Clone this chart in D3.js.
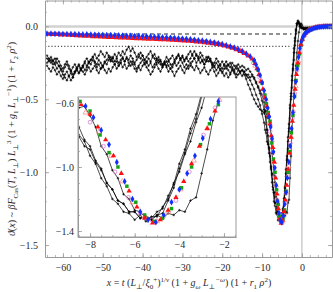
<!DOCTYPE html>
<html>
<head>
<meta charset="utf-8">
<script src="https://cdn.jsdelivr.net/npm/d3@7"></script>
<style>
  body { margin: 0; background: #fff; }
  svg  { display: block; font-family: 'Liberation Serif', 'DejaVu Serif', serif; }
</style>
</head>
<body>
<svg id="chart" width="333" height="292"></svg>
<script>
// MARK: Data.

const xTicks      = [-60, -50, -40, -30, -20, -10, 0]
const yTicks      = [0, -0.5, -1.0, -1.5]
const insetXTicks = [-8, -6, -4, -2]
const insetYTicks = [-0.6, -1.0, -1.4]

// reference levels: y = 0, dashed, dotted; vertical line at x = 0
const refDashed = -0.052
const refDotted = -0.137
const refEnd    = -2.6

// scaling function, blue filled diamonds
const blue = [
  [-64, -0.050], [-63, -0.050], [-62, -0.051], [-61, -0.051], [-60, -0.052], [-59, -0.052],
  [-58, -0.053], [-57, -0.053], [-56, -0.054], [-55, -0.055], [-54, -0.055], [-53, -0.056],
  [-52, -0.057], [-51, -0.058], [-50, -0.058], [-49, -0.059], [-48, -0.060], [-47, -0.061],
  [-46, -0.062], [-45, -0.063], [-44, -0.064], [-43, -0.065], [-42, -0.066], [-41, -0.067],
  [-40, -0.068], [-39, -0.069], [-38, -0.070], [-37, -0.072], [-36, -0.073], [-35, -0.075],
  [-34, -0.076], [-33, -0.078], [-32, -0.080], [-31, -0.082], [-30, -0.084], [-29, -0.086],
  [-28, -0.089], [-27, -0.092], [-26, -0.095], [-25, -0.098], [-24, -0.102], [-23, -0.106],
  [-22, -0.111], [-21, -0.116], [-20, -0.122], [-19, -0.129], [-18, -0.137], [-17, -0.146],
  [-16, -0.157], [-15, -0.170], [-14, -0.186], [-13, -0.206], [-12, -0.232],
  [-11.5, -0.262], [-11, -0.295], [-10.5, -0.335], [-10, -0.385], [-9.5, -0.44], [-9, -0.50],
  [-8.6, -0.56], [-8.2, -0.62], [-7.85, -0.69], [-7.5, -0.77], [-7.15, -0.86], [-6.8, -0.97],
  [-6.45, -1.09], [-6.1, -1.20], [-5.75, -1.28], [-5.4, -1.33], [-5.05, -1.345], [-4.7, -1.30],
  [-4.35, -1.22], [-4.0, -1.14], [-3.65, -1.04], [-3.3, -0.93], [-2.95, -0.82], [-2.6, -0.70],
  [-2.25, -0.59], [-1.9, -0.48], [-1.55, -0.38], [-1.2, -0.29], [-0.85, -0.21], [-0.5, -0.15],
  [-0.15, -0.105], [0.2, -0.075], [0.6, -0.055], [1.0, -0.042], [1.5, -0.031], [2, -0.023],
  [2.5, -0.017], [3, -0.012], [3.5, -0.008], [4, -0.005], [4.5, -0.003], [5, -0.002],
  [5.5, -0.001], [6, 0], [6.5, 0], [7, 0], [7.5, 0],
]

// red filled triangles
const red = [
  [-63.5, -0.053], [-62.5, -0.055], [-61.5, -0.056], [-60.5, -0.058], [-59.5, -0.059],
  [-58.5, -0.061], [-57.5, -0.062], [-56.5, -0.064], [-55.5, -0.065], [-54.5, -0.067],
  [-53.5, -0.068], [-52.5, -0.070], [-51.5, -0.071], [-50.5, -0.072], [-49.5, -0.074],
  [-48.5, -0.075], [-47.5, -0.076], [-46.5, -0.078], [-45.5, -0.079], [-44.5, -0.080],
  [-43.5, -0.081], [-42.5, -0.083], [-41.5, -0.084], [-40.5, -0.085], [-39.5, -0.086],
  [-38.5, -0.087], [-37.5, -0.088], [-36.5, -0.089], [-35.5, -0.091], [-34.5, -0.092],
  [-33.5, -0.093], [-32.5, -0.095], [-31.5, -0.096], [-30.5, -0.098], [-29.5, -0.100],
  [-28.5, -0.102], [-27.5, -0.104], [-26.5, -0.106], [-25.5, -0.109], [-24.5, -0.112],
  [-23.5, -0.115], [-22.5, -0.119], [-21.5, -0.123], [-20.5, -0.128], [-19.5, -0.134],
  [-18.5, -0.141], [-17.5, -0.149], [-16.5, -0.159], [-15.5, -0.171], [-14.5, -0.185],
  [-13.5, -0.202], [-12.5, -0.223],
  [-11.8, -0.255], [-11.3, -0.29], [-10.8, -0.33], [-10.3, -0.38], [-9.8, -0.43], [-9.3, -0.49],
  [-8.8, -0.55], [-8.4, -0.61], [-8.0, -0.67], [-7.65, -0.75], [-7.3, -0.83], [-6.95, -0.93],
  [-6.6, -1.04], [-6.25, -1.15], [-5.9, -1.25], [-5.55, -1.32], [-5.2, -1.35], [-4.85, -1.33],
  [-4.5, -1.27], [-4.15, -1.19], [-3.8, -1.09], [-3.45, -0.98], [-3.1, -0.87], [-2.75, -0.76],
  [-2.4, -0.65], [-2.05, -0.54], [-1.7, -0.43], [-1.35, -0.33], [-1.0, -0.25], [-0.65, -0.18],
  [-0.3, -0.125], [0.05, -0.09], [0.4, -0.065], [0.8, -0.048], [1.25, -0.036], [1.75, -0.027],
  [2.25, -0.020], [2.75, -0.014], [3.25, -0.010], [3.75, -0.007], [4.25, -0.004], [4.75, -0.002],
  [5.25, -0.001], [5.75, 0], [6.25, 0], [6.75, 0], [7.25, 0],
]

// green filled squares
const green = [
  [-63, -0.052], [-60, -0.054], [-57, -0.056], [-54, -0.058], [-51, -0.061], [-48, -0.063],
  [-45, -0.066], [-42, -0.069], [-39, -0.072], [-36, -0.076], [-33, -0.080], [-30, -0.086],
  [-27, -0.094], [-24, -0.104], [-21, -0.118], [-18, -0.140], [-15, -0.172],
  [-12, -0.235], [-11, -0.30], [-10, -0.39], [-9.3, -0.47], [-8.9, -0.53], [-8.45, -0.59],
  [-8.0, -0.65], [-7.55, -0.80], [-7.15, -0.91], [-6.75, -1.00], [-6.35, -1.12], [-5.95, -1.22],
  [-5.55, -1.30], [-5.15, -1.34], [-4.75, -1.32], [-4.35, -1.26], [-3.9, -1.13], [-3.45, -1.00],
  [-3.05, -0.86], [-2.65, -0.73], [-2.25, -0.61], [-1.85, -0.48], [-1.45, -0.37], [-1.05, -0.27],
  [-0.65, -0.19], [-0.25, -0.13], [0.15, -0.09], [0.6, -0.06], [1.1, -0.043], [1.6, -0.032],
  [2.2, -0.022], [2.8, -0.015], [3.4, -0.010], [4, -0.006], [4.6, -0.003], [5.2, -0.002],
  [5.8, -0.001], [6.4, 0], [7.0, 0],
]

// open circles (pink)
const pinkCircles = [
  [-62, -0.050], [-52, -0.057], [-42, -0.066], [-32, -0.080], [-22, -0.110], [-17, -0.145],
  [-12.2, -0.25], [-10.6, -0.35], [-9.5, -0.47], [-8.7, -0.60], [-8.0, -0.72], [-7.4, -0.87],
  [-6.88, -1.03], [-6.28, -1.19], [-5.75, -1.29], [-5.23, -1.33], [-4.7, -1.31], [-4.15, -1.21],
  [-3.55, -1.03], [-2.92, -0.80], [-2.4, -0.63], [-1.8, -0.46], [-1.2, -0.30], [-0.6, -0.18],
  [0.1, -0.09], [1.0, -0.045], [2.5, -0.017], [4.5, -0.004], [6.5, 0],
]

// open triangles (salmon)
const salmonTriangles = [
  [-58, -0.055], [-48, -0.062], [-38, -0.072], [-28, -0.090], [-20, -0.124], [-15.5, -0.165],
  [-11.7, -0.27], [-10.3, -0.37], [-9.1, -0.50], [-8.2, -0.66], [-7.6, -0.78], [-7.05, -0.93],
  [-6.55, -1.09], [-6.1, -1.22], [-5.55, -1.31], [-5.0, -1.34], [-4.5, -1.28], [-3.95, -1.14],
  [-3.35, -0.96], [-2.75, -0.76], [-2.2, -0.58], [-1.6, -0.41], [-0.9, -0.24], [-0.2, -0.12],
  [0.6, -0.058], [1.8, -0.025], [3.5, -0.008], [5.5, -0.001], [7.3, 0],
]

// Monte Carlo runs (black crosses joined by lines), all sampled at blackX
const blackX = [
  -64, -63.5, -63, -62.5, -62, -61.5, -61, -60.5, -60, -59.5,
  -59, -58.5, -58, -57.5, -57, -56.5, -56, -55.5, -55, -54.5,
  -54, -53.5, -53, -52.5, -52, -51.5, -51, -50.5, -50, -49.5,
  -49, -48.5, -48, -47.5, -47, -46.5, -46, -45.5, -45, -44.5,
  -44, -43.5, -43, -42.5, -42, -41.5, -41, -40.5, -40, -39.5,
  -39, -38.5, -38, -37.5, -37, -36.5, -36, -35.5, -35, -34.5,
  -34, -33.5, -33, -32.5, -32, -31.5, -31, -30.5, -30, -29.5,
  -29, -28.5, -28, -27.5, -27, -26.5, -26, -25.5, -25, -24.5,
  -24, -23.5, -23, -22.5, -22, -21.5, -21, -20.5, -20, -19.5,
  -19, -18.5, -18, -17.5, -17, -16.5, -16, -15.5, -15,
  -14.5, -14, -13.5, -13, -12.5, -12, -11.5, -11, -10.5, -10, -9.5,
  -9.25, -9, -8.75, -8.5, -8.25, -8, -7.75, -7.5, -7.25, -7, -6.75, -6.5, -6.25, -6, -5.75,
  -5.5, -5.25, -5, -4.75, -4.5, -4.25, -4, -3.75, -3.5, -3.25, -3, -2.75, -2.5, -2.25, -2,
  -1.75, -1.5, -1.25, -1, -0.75, -0.5, -0.25, 0, 0.5, 1, 1.5, 2, 2.5, 3,
]
const blackRun1 = [
  -0.22, -0.24, -0.23, -0.26, -0.25, -0.22, -0.24, -0.27, -0.29, -0.26,
  -0.24, -0.27, -0.30, -0.33, -0.31, -0.28, -0.26, -0.29, -0.27, -0.24,
  -0.22, -0.25, -0.23, -0.21, -0.24, -0.26, -0.23, -0.25, -0.28, -0.25,
  -0.23, -0.21, -0.24, -0.22, -0.19, -0.21, -0.18, -0.20, -0.17, -0.19,
  -0.16, -0.14, -0.17, -0.15, -0.18, -0.21, -0.19, -0.22, -0.20, -0.23,
  -0.25, -0.22, -0.24, -0.21, -0.19, -0.22, -0.25, -0.23, -0.26, -0.24,
  -0.21, -0.23, -0.26, -0.28, -0.25, -0.22, -0.20, -0.23, -0.21, -0.24,
  -0.22, -0.19, -0.17, -0.20, -0.22, -0.25, -0.23, -0.21, -0.24, -0.26,
  -0.23, -0.21, -0.24, -0.27, -0.25, -0.22, -0.24, -0.27, -0.29, -0.26,
  -0.24, -0.27, -0.25, -0.28, -0.30, -0.27, -0.29, -0.31, -0.30,
  -0.33, -0.36, -0.40, -0.43, -0.47, -0.50, -0.53, -0.55, -0.57, -0.58, -0.59,
  -0.60, -0.58, -0.61, -0.63, -0.62, -0.68, -0.75, -0.87, -0.92, -1.02, -1.07, -1.17, -1.20, -1.27, -1.28,
  -1.32, -1.33, -1.30, -1.29, -1.21, -1.13, -1.01, -0.91, -0.79, -0.70, -0.56, -0.48, -0.37, -0.29, -0.18,
  -0.10, -0.03, 0.02, 0.03, 0.02, 0.01, 0.0, -0.01, -0.02, -0.01, -0.02, -0.01, -0.02, -0.01,
]
const blackRun2 = [
  -0.27, -0.29, -0.31, -0.28, -0.30, -0.33, -0.31, -0.34, -0.36, -0.33,
  -0.31, -0.34, -0.37, -0.35, -0.32, -0.30, -0.32, -0.29, -0.31, -0.33,
  -0.30, -0.28, -0.31, -0.29, -0.27, -0.30, -0.32, -0.29, -0.27, -0.30,
  -0.32, -0.29, -0.31, -0.28, -0.26, -0.29, -0.27, -0.25, -0.28, -0.26,
  -0.29, -0.27, -0.24, -0.26, -0.29, -0.31, -0.28, -0.30, -0.27, -0.25,
  -0.28, -0.30, -0.33, -0.31, -0.28, -0.26, -0.29, -0.31, -0.28, -0.26,
  -0.24, -0.27, -0.29, -0.31, -0.34, -0.31, -0.29, -0.27, -0.30, -0.32,
  -0.29, -0.27, -0.25, -0.28, -0.30, -0.27, -0.29, -0.32, -0.30, -0.28,
  -0.31, -0.33, -0.30, -0.28, -0.31, -0.34, -0.32, -0.29, -0.31, -0.34,
  -0.32, -0.35, -0.33, -0.30, -0.32, -0.35, -0.33, -0.31, -0.30,
  -0.31, -0.33, -0.35, -0.37, -0.40, -0.43, -0.47, -0.50, -0.54, -0.60, -0.66,
  -0.71, -0.73, -0.79, -0.81, -0.87, -0.89, -0.97, -1.02, -1.10, -1.14, -1.21, -1.23, -1.28, -1.28, -1.32,
  -1.31, -1.32, -1.28, -1.26, -1.18, -1.11, -0.98, -0.89, -0.76, -0.67, -0.54, -0.46, -0.34, -0.26, -0.15,
  -0.08, -0.02, 0.02, 0.04, 0.03, 0.01, 0.0, -0.01, -0.01, -0.02, -0.01, -0.01, -0.02, -0.01,
]
const blackRun3 = [
  -0.20, -0.22, -0.25, -0.23, -0.26, -0.29, -0.27, -0.30, -0.33, -0.35,
  -0.37, -0.34, -0.32, -0.35, -0.31, -0.29, -0.27, -0.30, -0.28, -0.25,
  -0.27, -0.24, -0.26, -0.23, -0.25, -0.28, -0.26, -0.29, -0.27, -0.24,
  -0.26, -0.23, -0.21, -0.24, -0.26, -0.24, -0.27, -0.25, -0.22, -0.24,
  -0.21, -0.23, -0.20, -0.22, -0.25, -0.23, -0.21, -0.18, -0.20, -0.23,
  -0.21, -0.19, -0.17, -0.20, -0.22, -0.25, -0.23, -0.26, -0.28, -0.25,
  -0.27, -0.24, -0.22, -0.20, -0.23, -0.21, -0.19, -0.22, -0.25, -0.28,
  -0.26, -0.29, -0.27, -0.24, -0.22, -0.19, -0.21, -0.18, -0.20, -0.23,
  -0.21, -0.24, -0.22, -0.25, -0.27, -0.30, -0.28, -0.26, -0.24, -0.27,
  -0.29, -0.26, -0.28, -0.25, -0.27, -0.29, -0.26, -0.28, -0.27,
  -0.28, -0.30, -0.29, -0.31, -0.33, -0.35, -0.38, -0.42, -0.46, -0.51, -0.57,
  -0.60, -0.67, -0.71, -0.80, -0.84, -0.93, -0.98, -1.07, -1.12, -1.20, -1.23, -1.28, -1.29, -1.33, -1.30,
  -1.34, -1.31, -1.31, -1.25, -1.20, -1.10, -1.03, -0.92, -0.84, -0.72, -0.63, -0.50, -0.42, -0.30, -0.23,
  -0.13, -0.05, 0.01, 0.03, 0.02, 0.0, -0.01, -0.01, -0.02, -0.01, -0.01, -0.02, -0.01, -0.01,
]
const blackRun4 = [
  -0.25, -0.23, -0.21, -0.24, -0.22, -0.25, -0.27, -0.29, -0.31, -0.28,
  -0.26, -0.29, -0.31, -0.28, -0.26, -0.29, -0.32, -0.30, -0.27, -0.30,
  -0.28, -0.25, -0.23, -0.21, -0.19, -0.22, -0.20, -0.17, -0.19, -0.21,
  -0.18, -0.20, -0.23, -0.21, -0.24, -0.22, -0.25, -0.23, -0.21, -0.24,
  -0.22, -0.25, -0.27, -0.24, -0.26, -0.29, -0.27, -0.25, -0.23, -0.26,
  -0.24, -0.27, -0.25, -0.28, -0.26, -0.23, -0.21, -0.24, -0.27, -0.25,
  -0.28, -0.31, -0.29, -0.26, -0.24, -0.27, -0.25, -0.22, -0.20, -0.23,
  -0.21, -0.24, -0.22, -0.19, -0.17, -0.20, -0.22, -0.25, -0.23, -0.26,
  -0.24, -0.21, -0.23, -0.26, -0.28, -0.25, -0.27, -0.30, -0.32, -0.29,
  -0.27, -0.30, -0.32, -0.29, -0.31, -0.33, -0.30, -0.32, -0.34,
  -0.31, -0.34, -0.33, -0.35, -0.34, -0.36, -0.39, -0.41, -0.44, -0.47, -0.52,
  -0.58, -0.62, -0.71, -0.75, -0.83, -0.87, -0.96, -1.01, -1.10, -1.14, -1.21, -1.23, -1.28, -1.28, -1.32,
  -1.31, -1.33, -1.30, -1.32, -1.29, -1.30, -1.27, -1.28, -1.21, -1.19, -1.04, -0.89, -0.71, -0.59, -0.46,
  -0.37, -0.27, -0.18, -0.10, -0.04, 0.00, 0.02, 0.01, -0.01, -0.02, -0.01, -0.01, -0.02, -0.01,
]
const blackRuns = [blackRun1, blackRun2, blackRun3, blackRun4]

// MARK: Layout.

const MAIN  = { left: 45, right: 332, top: 0.5, bottom: 257 }
const INSET = { left: 78, right: 236, top: 97, bottom: 237 }
const FRAME = '#9a9a9a'
const LABEL = '#2a2a2a'
const FONT  = 10

const svg = d3.select('#chart')

const x  = d3.scaleLinear().domain([-64.5, 7.55]).range([MAIN.left, MAIN.right])
const y  = d3.scaleLinear().domain([-1.582, 0.178]).range([MAIN.bottom, MAIN.top])
const xi = d3.scaleLinear().domain([-8.54, -1.46]).range([INSET.left, INSET.right])
const yi = d3.scaleLinear().domain([-1.4375, -0.5625]).range([INSET.bottom, INSET.top])

const defs = svg.append('defs')
function clip(id, box) {
  defs.append('clipPath').attr('id', id).append('rect')
    .attr('x', box.left).attr('y', box.top)
    .attr('width', box.right - box.left).attr('height', box.bottom - box.top)
  return `url(#${id})`
}

// MARK: Marks.

const coloured = [
  { data: pinkCircles,     type: d3.symbolCircle,   size: 11, fill: 'none',    stroke: '#d77ad0' },
  { data: salmonTriangles, type: d3.symbolTriangle, size: 11, fill: 'none',    stroke: '#ff8a8a' },
  { data: green,           type: d3.symbolSquare,   size: 12, fill: '#12a212', stroke: 'none' },
  { data: red,             type: d3.symbolTriangle, size: 12, fill: '#ff1010', stroke: 'none' },
  { data: blue,            type: d3.symbolDiamond,  size: 13, fill: '#1030ff', stroke: 'none' },
]

function drawData(g, xs, ys) {
  const line = d3.line().x((d) => xs(d[0])).y((d) => ys(d[1]))
  blackRuns.forEach((run) => {
    const pts = blackX.map((v, i) => [v, run[i]])
    g.append('path')
      .attr('d', line(pts))
      .attr('fill', 'none')
      .attr('stroke', '#000')
      .attr('stroke-width', 0.7)
    g.append('g').selectAll('path')
      .data(pts).join('path')
      .attr('transform', (d) => `translate(${xs(d[0])},${ys(d[1])})`)
      .attr('d', 'M-1.3,0H1.3M0,-1.3V1.3')
      .attr('stroke', '#000')
      .attr('stroke-width', 0.7)
  })
  coloured.forEach((s) => {
    const path = d3.symbol().type(s.type).size(s.size)()
    g.append('g').selectAll('path')
      .data(s.data).join('path')
      .attr('transform', (d) => `translate(${xs(d[0])},${ys(d[1])})`)
      .attr('d', path)
      .attr('fill', s.fill)
      .attr('stroke', s.stroke)
      .attr('stroke-width', 0.8)
  })
}

// MARK: Frame with inward ticks.

const AXES = { bottom: d3.axisBottom, top: d3.axisTop, left: d3.axisLeft, right: d3.axisRight }

function frame(g, xs, ys, box, o) {
  const sides = {
    bottom: [xs, `translate(0,${box.bottom})`, o.xMajor, o.xMinor, o.xFmt],
    top   : [xs, `translate(0,${box.top})`,    o.xMajor, o.xMinor, null],
    left  : [ys, `translate(${box.left},0)`,   o.yMajor, o.yMinor, o.yFmt],
    right : [ys, `translate(${box.right},0)`,  o.yMajor, o.yMinor, null],
  }
  o.sides.forEach((side) => {
    const [scale, tr, major, minor, fmt] = sides[side]
    const gm = g.append('g').attr('transform', tr)
      .call(AXES[side](scale).tickValues(minor).tickSize(-2).tickSizeOuter(0).tickFormat(''))
    gm.select('.domain').remove()
    gm.selectAll('.tick line').attr('stroke', FRAME).attr('stroke-width', 0.7)

    const ga = g.append('g').attr('transform', tr)
      .call(AXES[side](scale).tickValues(major).tickSize(-4).tickSizeOuter(0)
        .tickPadding(o.pad).tickFormat(fmt || (() => '')))
    ga.select('.domain').attr('stroke', FRAME).attr('stroke-width', 1)
    ga.selectAll('.tick line').attr('stroke', FRAME).attr('stroke-width', 0.8)
    ga.selectAll('.tick text')
      .attr('fill', LABEL)
      .attr('font-size', FONT)
      .attr('font-family', "'Liberation Serif', serif")
    if (!fmt) ga.selectAll('.tick text').remove()
  })
}

// MARK: Main panel.

const main = svg.append('g')
const mainData = main.append('g').attr('clip-path', clip('clip-main', MAIN))

mainData.append('line')
  .attr('x1', MAIN.left).attr('x2', MAIN.right)
  .attr('y1', y(0)).attr('y2', y(0))
  .attr('stroke', '#d2d2d2').attr('stroke-width', 2.4)
mainData.append('line')
  .attr('x1', x(0)).attr('x2', x(0))
  .attr('y1', MAIN.top).attr('y2', MAIN.bottom)
  .attr('stroke', '#b4b4b4').attr('stroke-width', 1)
mainData.append('line')
  .attr('x1', MAIN.left).attr('x2', x(refEnd))
  .attr('y1', y(refDashed)).attr('y2', y(refDashed))
  .attr('stroke', '#6e6e6e').attr('stroke-width', 1.3).attr('stroke-dasharray', '4,3')
mainData.append('line')
  .attr('x1', MAIN.left).attr('x2', x(refEnd))
  .attr('y1', y(refDotted)).attr('y2', y(refDotted))
  .attr('stroke', '#555').attr('stroke-width', 1.1).attr('stroke-dasharray', '1.2,2')

drawData(mainData, x, y)

// MARK: Inset.

const inset = svg.append('g')
inset.append('rect')
  .attr('x', INSET.left).attr('y', INSET.top)
  .attr('width', INSET.right - INSET.left).attr('height', INSET.bottom - INSET.top)
  .attr('fill', '#fff')
const insetData = inset.append('g').attr('clip-path', clip('clip-inset', INSET))
drawData(insetData, xi, yi)
inset.append('rect')
  .attr('x', INSET.left).attr('y', INSET.top)
  .attr('width', INSET.right - INSET.left).attr('height', INSET.bottom - INSET.top)
  .attr('fill', 'none').attr('stroke', FRAME).attr('stroke-width', 1)

frame(inset, xi, yi, INSET, {
  sides : ['bottom', 'left'],
  xMajor: insetXTicks, xMinor: d3.range(-8.5, -1.45, 0.5),
  yMajor: insetYTicks, yMinor: d3.range(-1.4, -0.55, 0.1),
  xFmt  : d3.format('d'), yFmt: d3.format('.1f'), pad: 4,
})

// MARK: Main frame.

frame(main, x, y, MAIN, {
  sides : ['bottom', 'top', 'left', 'right'],
  xMajor: xTicks, xMinor: d3.range(-64, 7.6, 2),
  yMajor: yTicks, yMinor: d3.range(-1.5, 0.18, 0.1),
  xFmt  : d3.format('d'), yFmt: d3.format('.1f'), pad: 7,
})

// MARK: Axis titles (rich text with sub/superscripts).

function richText(text, parts, size) {
  let shift = 0
  parts.forEach(([str, kind]) => {
    const small  = kind.includes('b') || kind.includes('p')
    const target = kind.includes('b') ? size * 0.3 : kind.includes('p') ? -size * 0.42 : 0
    text.append('tspan')
      .attr('dy', target - shift)
      .attr('font-size', small ? size * 0.7 : size)
      .attr('font-style', kind.includes('i') ? 'italic' : 'normal')
      .text(str)
    shift = target
  })
}

const xTitle = svg.append('text')
  .attr('x', 189).attr('y', 286)
  .attr('text-anchor', 'middle').attr('fill', LABEL)
richText(xTitle, [
  ['x', 'i'], [' = ', ''], ['t', 'i'], [' (', ''], ['L', 'i'], ['⊥', 'b'], ['/', ''], ['ξ', 'i'],
  ['0', 'b'], ['+', 'p'], [')', ''], ['1/ν', 'p'], [' (1 + ', ''], ['g', 'i'], ['ω', 'ib'],
  [' ', ''], ['L', 'i'], ['⊥', 'b'], ['−ω', 'ip'], [') (1 + ', ''], ['r', 'i'], ['1', 'b'],
  [' ', ''], ['ρ', 'i'], ['2', 'p'], [')', ''],
], FONT)

const yTitle = svg.append('text')
  .attr('transform', 'translate(15,139) rotate(-90)')
  .attr('text-anchor', 'middle').attr('fill', LABEL)
richText(yTitle, [
  ['ϑ', 'i'], ['(', ''], ['x', 'i'], [') ~ ', ''], ['β', 'i'], ['F', 'i'], ['Cas', 'b'], ['(', ''],
  ['T', 'i'], [', ', ''], ['L', 'i'], ['⊥', 'b'], [') ', ''], ['L', 'i'], ['⊥', 'b'], ['3', 'p'],
  [' (1 + ', ''], ['g', 'i'], ['1', 'b'], [' ', ''], ['L', 'i'], ['⊥', 'b'], ['−1', 'p'],
  [') (1 + ', ''], ['r', 'i'], ['2', 'b'], [' ', ''], ['ρ', 'i'], ['2', 'p'], [')', ''],
], FONT)
</script>
</body>
</html>
